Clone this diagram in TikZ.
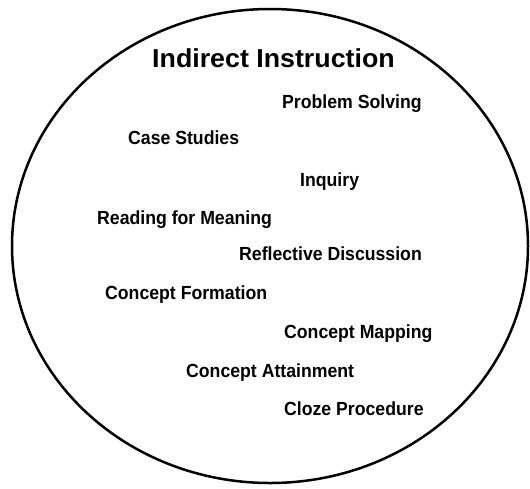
\documentclass[tikz,border=0pt]{standalone}
\usepackage{fontspec}
\setmainfont{Liberation Sans}
\begin{document}
\begin{tikzpicture}[x=1pt,y=-1pt,
  item/.style={anchor=base west,inner sep=0pt,font=\bfseries\fontsize{19}{19}\selectfont,xscale=0.93},
  titlebox/.style={anchor=base west,inner sep=0pt,font=\bfseries\fontsize{26}{26}\selectfont,xscale=1.03},
  ring/.style={line width=2.5pt,draw=black}]
\useasboundingbox (0,0) rectangle (530,488);
\draw[ring] (270,246) ellipse [x radius=258, y radius=237];
\node[titlebox] (title) at (152,67) {Indirect Instruction};
\node[item] (ps) at (282,108) {Problem Solving};
\node[item] (cs) at (128,144) {Case Studies};
\node[item] (inq) at (300,186) {Inquiry};
\node[item] (rfm) at (97,224) {Reading for Meaning};
\node[item] (rd) at (239,260) {Reflective Discussion};
\node[item] (cf) at (105,299) {Concept Formation};
\node[item] (cm) at (284,338) {Concept Mapping};
\node[item] (ca) at (186,377) {Concept Attainment};
\node[item] (cp) at (284,415) {Cloze Procedure};
\end{tikzpicture}
\end{document}
